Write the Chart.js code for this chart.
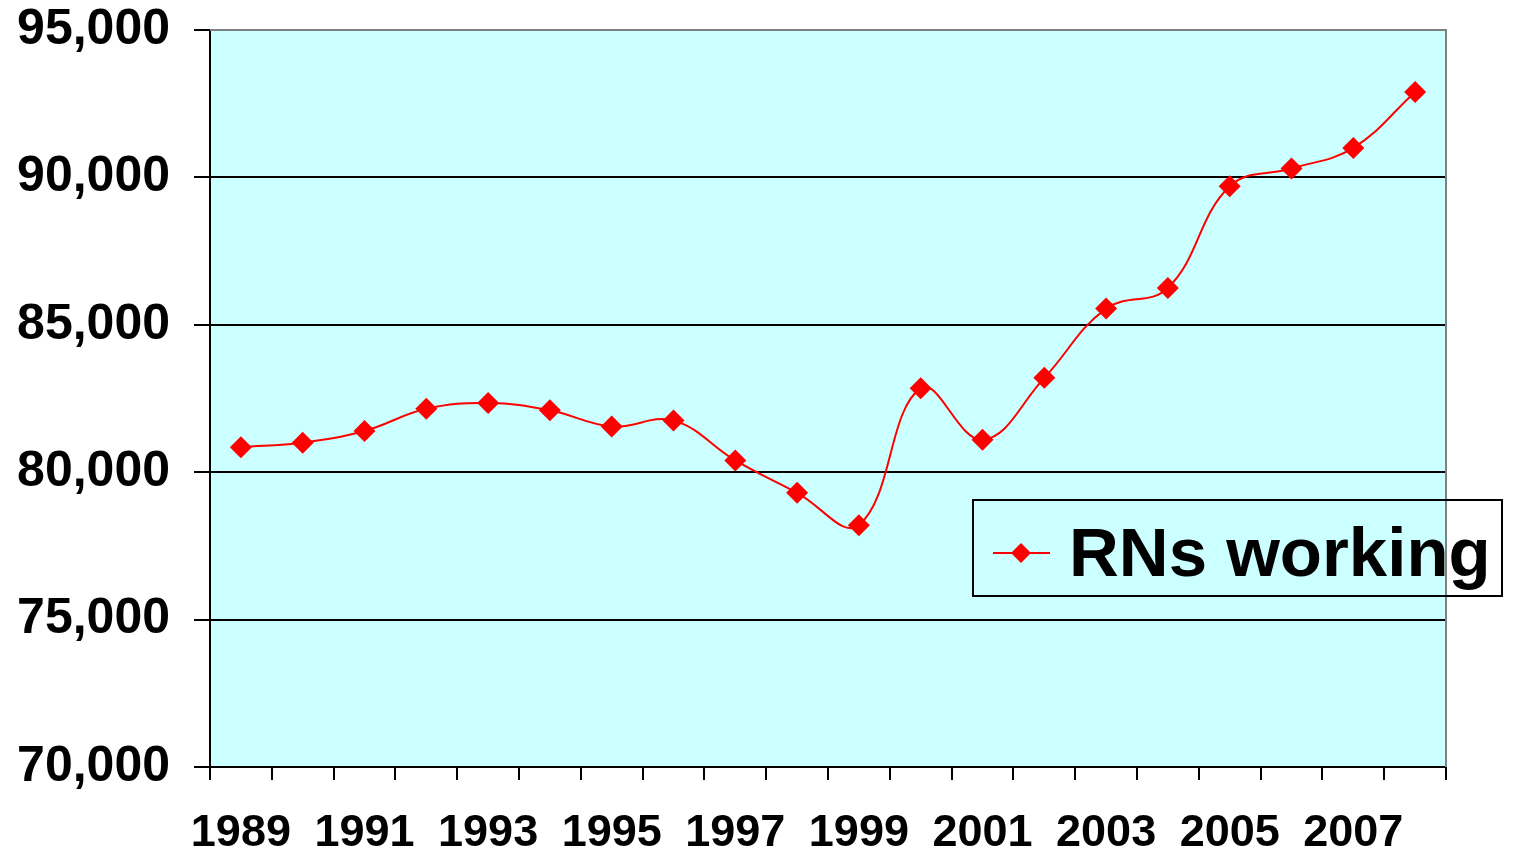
<!DOCTYPE html>
<html>
<head>
<meta charset="utf-8">
<script src="https://cdn.jsdelivr.net/npm/chart.js@4"></script>
<style>
  body { margin: 0; background: #fff; }
  #wrap { width: 1515px; height: 858px; position: relative; }
</style>
</head>
<body>
<div id="wrap"><canvas id="rnChart"></canvas></div>
<script>
const years = ["1989", "1990", "1991", "1992", "1993", "1994", "1995", "1996", "1997", "1998",
  "1999", "2000", "2001", "2002", "2003", "2004", "2005", "2006", "2007", "2008"];
const rnsWorking = [80850, 81000, 81400, 82150, 82350, 82100, 81550, 81750, 80400, 79300,
  78200, 82850, 81100, 83200, 85550, 86250, 89700, 90300, 91000, 92900];
const seriesName = "RNs working";
const yMin = 70000;
const yMax = 95000;
const yStep = 5000;

const fontFamily = "'Liberation Sans', Arial, sans-serif";

// cyan plot area with gray top/right border, like the Excel original
const plotBackground = {
  id: "plotBackground",
  beforeDraw(chart) {
    const { ctx, chartArea: a } = chart;
    ctx.save();
    ctx.fillStyle = "#ccffff";
    ctx.fillRect(a.left, a.top, a.right - a.left, a.bottom - a.top);
    ctx.restore();
  },
  beforeDatasetsDraw(chart) {
    const { ctx, chartArea: a } = chart;
    ctx.save();
    ctx.strokeStyle = "#808080";
    ctx.lineWidth = 2;
    ctx.beginPath();
    ctx.moveTo(a.left, a.top);
    ctx.lineTo(a.right, a.top);
    ctx.lineTo(a.right, a.bottom);
    ctx.stroke();
    ctx.restore();
  }
};

// legend box that overlaps the right edge of the plot
const boxLegend = {
  id: "boxLegend",
  afterDraw(chart) {
    const { ctx, chartArea: a } = chart;
    const ds = chart.data.datasets[0];
    const x0 = a.right - 473, y0 = a.top + 470, w = 529, h = 96;
    ctx.save();
    ctx.strokeStyle = "#000";
    ctx.lineWidth = 2;
    ctx.strokeRect(x0, y0, w, h);
    const cy = y0 + 53;
    ctx.strokeStyle = ds.borderColor;
    ctx.lineWidth = 2;
    ctx.beginPath();
    ctx.moveTo(x0 + 20, cy);
    ctx.lineTo(x0 + 77, cy);
    ctx.stroke();
    ctx.fillStyle = ds.pointBackgroundColor;
    ctx.beginPath();
    ctx.moveTo(x0 + 48, cy - 10);
    ctx.lineTo(x0 + 58, cy);
    ctx.lineTo(x0 + 48, cy + 10);
    ctx.lineTo(x0 + 38, cy);
    ctx.closePath();
    ctx.fill();
    ctx.fillStyle = "#000";
    ctx.font = "bold 69px " + fontFamily;
    ctx.textBaseline = "alphabetic";
    ctx.fillText(ds.label, x0 + 96, y0 + 76);
    ctx.restore();
  }
};

const ctx = document.getElementById("rnChart").getContext("2d");
const rnChart = new Chart(ctx, {
  type: "line",
  data: {
    labels: years,
    datasets: [
      {
        label: seriesName,
        data: rnsWorking,
        borderColor: "#ff0000",
        backgroundColor: "#ff0000",
        pointBackgroundColor: "#ff0000",
        pointBorderColor: "#ff0000",
        pointStyle: "rectRot",
        pointRadius: 11,
        pointBorderWidth: 0,
        borderWidth: 2,
        tension: 0.4,
        fill: false,
      },
    ],
  },
  options: {
    responsive: true,
    maintainAspectRatio: false,
    animation: false,
    layout: { padding: { top: 30, right: 69, left: 0, bottom: 0 } },
    plugins: {
      legend: { display: false },
      tooltip: { enabled: false },
    },
    scales: {
      x: {
        offset: true,
        grid: {
          offset: true,
          drawOnChartArea: false,
          color: "#000",
          lineWidth: 2,
          tickLength: 13,
        },
        border: { color: "#000", width: 2 },
        ticks: {
          autoSkip: false,
          maxRotation: 0,
          color: "#000",
          padding: 27,
          font: { family: fontFamily, size: 45, weight: "bold" },
          callback: function (value, index) {
            return index % 2 === 0 ? this.getLabelForValue(value) : "";
          },
        },
        afterFit(scale) {
          scale.height = 91;
          scale.paddingLeft = 0;
          scale.paddingRight = 0;
        },
      },
      y: {
        min: yMin,
        max: yMax,
        grid: { color: "#000", lineWidth: 2, tickLength: 16 },
        border: { color: "#000", width: 2 },
        ticks: {
          stepSize: yStep,
          color: "#000",
          padding: 24,
          font: { family: fontFamily, size: 50, weight: "bold" },
          callback: (v) => v.toLocaleString("en-US"),
        },
        afterFit(scale) {
          scale.width = 210;
          scale.paddingTop = 0;
          scale.paddingBottom = 0;
        },
      },
    },
  },
  plugins: [plotBackground, boxLegend],
});
</script>
</body>
</html>
